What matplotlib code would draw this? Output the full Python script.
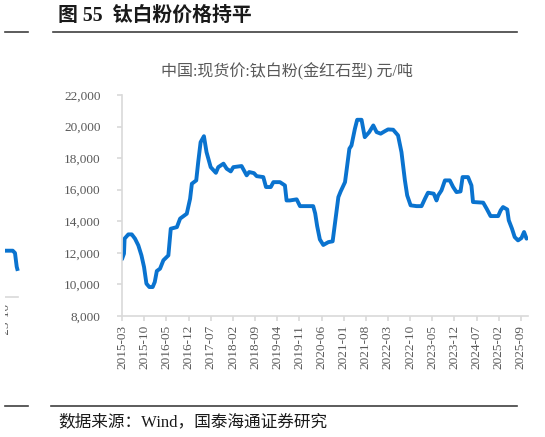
import matplotlib as mpl
mpl.use('Agg')
import matplotlib.pyplot as plt
import pandas as pd

plt.rcParams['font.family'] = ['Liberation Serif', 'Noto Sans CJK SC', 'DejaVu Sans']

# price series (date, yuan/ton)
dates = ["2015-03-01", "2015-03-20", "2015-03-26", "2015-05-01", "2015-06-03", "2015-07-04",
         "2015-08-05", "2015-09-04", "2015-09-29", "2015-10-22", "2015-11-19", "2015-12-21",
         "2016-01-10", "2016-01-30",
         "2016-03-01", "2016-04-02", "2016-05-20", "2016-06-12", "2016-08-10", "2016-09-10",
         "2016-11-13", "2016-12-15", "2017-01-01", "2017-02-12", "2017-03-03", "2017-03-26",
         "2017-04-27", "2017-05-22", "2017-07-01", "2017-08-20", "2017-09-12", "2017-11-01",
         "2017-12-02", "2018-01-10", "2018-02-04", "2018-04-24", "2018-06-12", "2018-07-06",
         "2018-08-21", "2018-09-16", "2018-11-19", "2018-12-15", "2019-01-30", "2019-02-24",
         "2019-04-28", "2019-06-15", "2019-07-01", "2019-08-02", "2019-10-06", "2019-11-07",
         "2020-03-13", "2020-04-01", "2020-04-20", "2020-05-16", "2020-06-18", "2020-08-06",
         "2020-09-16", "2020-10-10", "2020-11-10", "2020-12-02", "2021-01-13", "2021-01-30",
         "2021-02-24", "2021-03-16", "2021-04-18", "2021-05-10", "2021-06-21", "2021-07-22",
         "2021-09-03", "2021-10-12", "2021-11-13", "2021-12-22", "2022-02-01", "2022-03-03",
         "2022-04-21", "2022-06-07", "2022-07-10", "2022-08-12", "2022-09-03", "2022-10-06",
         "2022-12-02", "2023-01-19", "2023-02-21", "2023-03-22", "2023-05-16", "2023-06-12",
         "2023-06-28", "2023-07-30", "2023-09-01", "2023-10-18", "2023-11-19", "2023-12-21",
         "2024-01-29", "2024-02-18", "2024-04-10", "2024-05-13", "2024-05-28", "2024-09-03",
         "2024-10-06", "2024-11-13", "2025-01-25", "2025-02-18", "2025-03-13", "2025-04-22",
         "2025-05-07", "2025-06-07", "2025-07-03", "2025-08-04", "2025-09-06", "2025-10-01",
         "2025-10-25"]
prices = [11600, 11950, 12900, 13170, 13170, 12900,
          12475, 11840, 11100, 10050, 9835, 9835,
          10150, 10850,
          11000, 11530, 11840, 13530, 13630, 14170,
          14480, 15430, 16380, 16590, 17750, 19010,
          19390, 18380, 17430, 17070, 17430, 17650,
          17330, 17160, 17430, 17500, 16910, 17120,
          17050, 16860, 16800, 16170, 16170, 16480,
          16480, 16270, 15320, 15320, 15390, 14960,
          14960, 14500, 13700, 12850, 12500, 12680,
          12730, 13950, 15530, 15890, 16480, 17330,
          18600, 18800, 19860, 20430, 20430, 19330,
          19650, 20070, 19650, 19550, 19710, 19820,
          19800, 19440, 18380, 16590, 15640, 15010,
          14960, 14960, 15430, 15810, 15750, 15320,
          15640, 15960, 16590, 16590, 16170, 15850,
          15890, 16800, 16800, 16270, 15220, 15180,
          14800, 14330, 14330, 14690, 14900, 14750,
          14060, 13530, 13000, 12790, 12940, 13320,
          12900]

xtick_labels = ["2015-03", "2015-10", "2016-05", "2016-12", "2017-07", "2018-02", "2018-09",
                "2019-04", "2019-11", "2020-06", "2021-01", "2021-08", "2022-03", "2022-10",
                "2023-05", "2023-12", "2024-07", "2025-02", "2025-09"]
yticks = [8000, 10000, 12000, 14000, 16000, 18000, 20000, 22000]

# cut-off piece of the neighbouring chart at the left edge
frag_x = [0, 7.7, 10, 11.7, 12.3]
frag_y = [12315, 12315, 12200, 11515, 11400]

W, H = 545, 437
blue = '#0A73CF'
grey_txt = '#595959'
grey_ax = '#D9D9D9'

fig = plt.figure(figsize=(W / 100, H / 100), dpi=100)

ax = fig.add_axes([122 / W, 1 - 316 / H, (528 - 122) / W, (316 - 95) / H])
x = pd.to_datetime(dates)
ax.plot(x, prices, color=blue, lw=2.8, solid_joinstyle='round', solid_capstyle='round')

ax.set_ylim(8000, 22000)
ax.set_yticks(yticks)
ax.set_yticklabels([f"{v:,}" for v in yticks])
xt = pd.to_datetime([s + "-01" for s in xtick_labels])
ax.set_xticks(xt)
ax.set_xticklabels(xtick_labels, rotation=90)
ax.set_xlim(pd.Timestamp("2015-03-01"), pd.Timestamp("2025-11-08"))

for s in ['top', 'right']:
    ax.spines[s].set_visible(False)
for s in ['left', 'bottom']:
    ax.spines[s].set_color(grey_ax)
    ax.spines[s].set_linewidth(1.2)
ax.tick_params(axis='both', colors=grey_ax, labelcolor=grey_txt, labelsize=9.5,
               length=3.5, width=1.2, direction='out')
ax.tick_params(axis='y', pad=12)
ax.tick_params(axis='x', pad=3)

# neighbour fragment
axf = fig.add_axes([5 / W, 1 - 335 / H, 15 / W, (335 - 245) / H])
axf.set_xlim(0, 15)
axf.set_ylim(8100, 12600)
axf.axis('off')
axf.plot(frag_x, frag_y, color=blue, lw=2.8)
axf.axhline(10000, xmax=0.87, color=grey_ax, lw=1.2)
axf.text(0.5, 9700, "2025-10", rotation=90, ha='center', va='top', fontsize=9.5,
         color=grey_txt, clip_on=True)

# title, rules, subtitle, source
fig.text(58 / W, 1 - 16 / H, "图 55  钛白粉价格持平", fontsize=14.3, fontweight='bold',
         va='center', ha='left', color='#1a1a1a')
for yy, x0 in [(32, 53), (406, 51)]:
    fig.add_artist(plt.Line2D([5 / W, 28 / W], [1 - yy / H] * 2, color='#404040', lw=1.2))
    fig.add_artist(plt.Line2D([x0 / W, 517 / W], [1 - yy / H] * 2, color='#404040', lw=1.2))
fig.text(287 / W, 1 - 72 / H, "中国:现货价:钛白粉(金红石型) 元/吨", fontsize=11.5,
         ha='center', va='center', color=grey_txt)
fig.text(58 / W, 1 - 422 / H, "数据来源：Wind，国泰海通证券研究", fontsize=12,
         ha='left', va='center', color='#1a1a1a')

fig.savefig('out.png', dpi=100)
